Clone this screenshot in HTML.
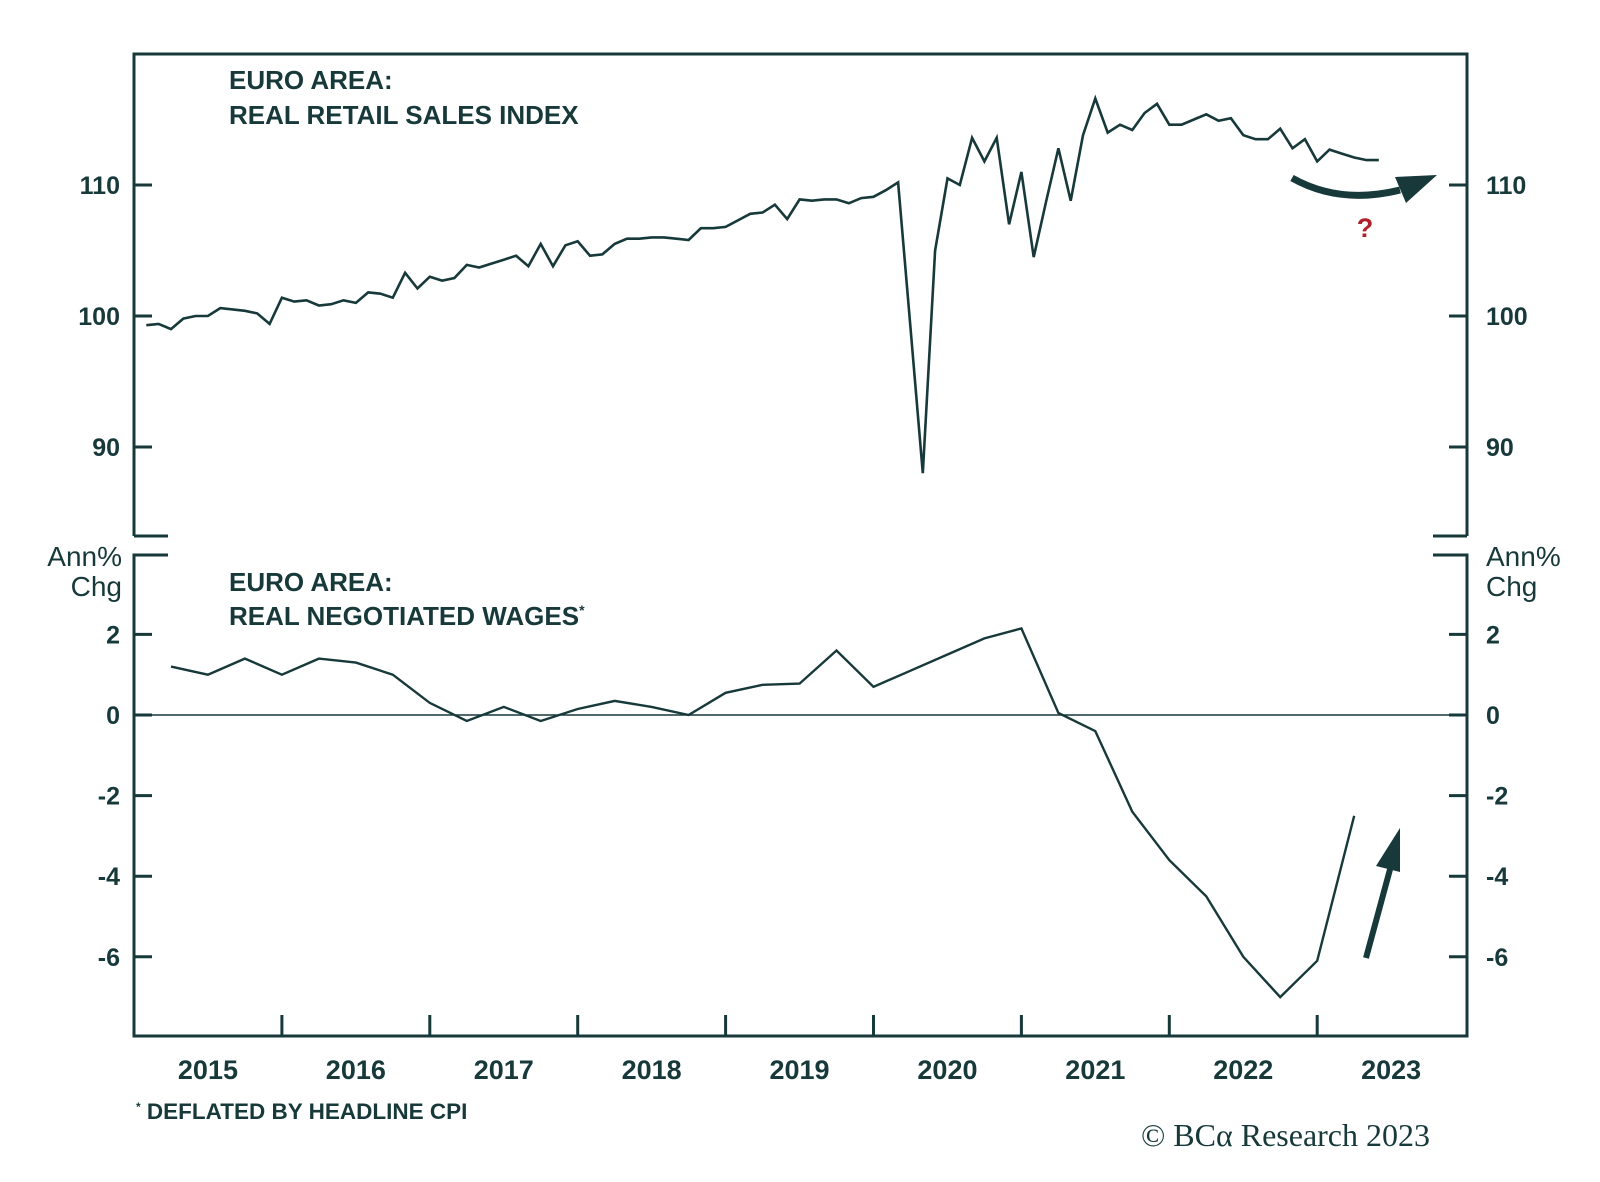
<!DOCTYPE html>
<html><head><meta charset="utf-8">
<style>
body{margin:0;background:#fff;}
svg{display:block;}
text{font-family:"Liberation Sans",sans-serif;fill:#17393a;}
.tk{font-size:25px;font-weight:bold;}
.yr{font-size:27px;font-weight:bold;}
.tt{font-size:26px;font-weight:bold;}
.un{font-size:28px;}
</style></head>
<body>
<svg id="chart" width="1600" height="1182" viewBox="0 0 1600 1182" xmlns="http://www.w3.org/2000/svg">
<g id="axes"></g>
<g id="marks"></g>
<text class="tt" x="229" y="89">EURO AREA:</text>
<text class="tt" x="229" y="124">REAL RETAIL SALES INDEX</text>
<text class="tt" x="229" y="591">EURO AREA:</text>
<text class="tt" x="229" y="625">REAL NEGOTIATED WAGES<tspan font-size="14" dy="-10">*</tspan></text>
<text class="un" x="122" y="566" text-anchor="end">Ann%</text>
<text class="un" x="122" y="596" text-anchor="end">Chg</text>
<text class="un" x="1486" y="566">Ann%</text>
<text class="un" x="1486" y="596">Chg</text>
<text x="136" y="1119" font-size="22.5" font-weight="bold"><tspan font-size="12" dy="-8">*</tspan><tspan dy="8"> DEFLATED BY HEADLINE CPI</tspan></text>
<text x="1430" y="1146" text-anchor="end" font-size="32" style="font-family:'Liberation Serif',serif">© BCα Research 2023</text>
<path d="M1292,178 Q1340,205 1400,190" fill="none" stroke="#17393a" stroke-width="7"/>
<polygon points="1437,175 1395,177 1406,203" fill="#17393a"/>
<text x="1365" y="237" text-anchor="middle" font-size="27" font-weight="bold" style="fill:#b0212b">?</text>
<line x1="1366" y1="958" x2="1392" y2="862" stroke="#17393a" stroke-width="6"/>
<polygon points="1400,828 1376,866 1400,872" fill="#17393a"/>
</svg>
<script>
const retailStart = 2015 + 1/12;
const retailValues = [
99.3,99.4,99.0,99.8,100.0,100.0,100.6,100.5,100.4,100.2,99.4,
101.4,101.1,101.2,100.8,100.9,101.2,101.0,101.8,101.7,101.4,103.3,102.1,
103.0,102.7,102.9,103.9,103.7,104.0,104.3,104.6,103.8,105.5,103.8,105.4,
105.7,104.6,104.7,105.5,105.9,105.9,106.0,106.0,105.9,105.8,106.7,106.7,
106.8,107.3,107.8,107.9,108.5,107.4,108.9,108.8,108.9,108.9,108.6,109.0,
109.1,109.6,110.2,99.1,88.0,105.0,110.5,110.0,113.6,111.8,113.6,107.0,111.0,
104.5,108.7,112.8,108.8,113.8,116.6,114.0,114.6,114.2,115.5,116.2,114.6,
114.6,115.0,115.4,114.9,115.1,113.8,113.5,113.5,114.3,112.8,113.5,111.8,
112.7,112.4,112.1,111.9,111.9];
const wageStart = 2015.25;
const wageValues = [1.2,1.0,1.4,1.0,1.4,1.3,1.0,0.3,-0.15,0.2,-0.15,0.15,0.35,0.2,0.0,0.55,0.75,0.78,1.6,0.7,1.1,1.5,1.9,2.15,0.05,-0.4,-2.4,-3.6,-4.5,-6.0,-7.0,-6.1,-2.5];
const topTicks = [110,100,90];
const bottomTicks = [2,0,-2,-4,-6];
const yearLabels = ["2015","2016","2017","2018","2019","2020","2021","2022","2023"];

const L=134,R=1467,TOP=54,TB=536,BT=555,BB=1036;
const X = t => L + (t-2015)*147.9;
const YT = v => 185 + (110-v)*13.1;
const YB = v => 715 - v*40.3;
const NS="http://www.w3.org/2000/svg";
const axes=document.getElementById('axes'), marks=document.getElementById('marks');
function mk(tag,attrs,parent){const e=document.createElementNS(NS,tag);for(const k in attrs)e.setAttribute(k,attrs[k]);parent.appendChild(e);return e;}
const C="#17393a";
let f=mk('path',{d:`M${L},${TB} L${L},${TOP} L${R},${TOP} L${R},${TB} M${L},${TB} L${L+34},${TB} M${R},${TB} L${R-34},${TB} M${L+34},${BT} L${L},${BT} L${L},${BB} L${R},${BB} L${R},${BT} L${R-34},${BT}`,fill:'none',stroke:C,'stroke-width':3},axes);


topTicks.forEach(v=>{
  const y=YT(v);
  let t=mk('path',{d:`M${L},${y} h18 M${R},${y} h-18`,stroke:C,'stroke-width':3},axes);
  
  
  let a=mk('text',{x:120,y:y+9,'text-anchor':'end',class:'tk'},axes);a.textContent=v;
  
  
  let b=mk('text',{x:1486,y:y+9,class:'tk'},axes);b.textContent=v;
  
  
});
bottomTicks.forEach(v=>{
  const y=YB(v);
  let t=mk('path',{d:`M${L},${y} h18 M${R},${y} h-18`,stroke:C,'stroke-width':3},axes);
  
  
  let a=mk('text',{x:120,y:y+9,'text-anchor':'end',class:'tk'},axes);a.textContent=v;
  
  
  let b=mk('text',{x:1486,y:y+9,class:'tk'},axes);b.textContent=v;
  
  
});
let z=mk('line',{x1:L,x2:R,y1:YB(0),y2:YB(0),stroke:C,'stroke-width':1.5},axes);


yearLabels.forEach((yr,i)=>{
  const t0=2015+i;
  if(i>0){let t=mk('line',{x1:X(t0),x2:X(t0),y1:BB,y2:BB-21,stroke:C,'stroke-width':3},axes);
    
    }
  let a=mk('text',{x:X(t0+0.5),y:1079,'text-anchor':'middle',class:'yr'},axes);a.textContent=yr;
  
  
});
let p1=mk('polyline',{points:retailValues.map((v,i)=>X(retailStart+i/12).toFixed(1)+','+YT(v).toFixed(1)).join(' '),fill:'none',stroke:C,'stroke-width':2.6,'stroke-linejoin':'miter'},marks);


let p2=mk('polyline',{points:wageValues.map((v,i)=>X(wageStart+i/4).toFixed(1)+','+YB(v).toFixed(1)).join(' '),fill:'none',stroke:C,'stroke-width':2.4},marks);


</script>
</body></html>
